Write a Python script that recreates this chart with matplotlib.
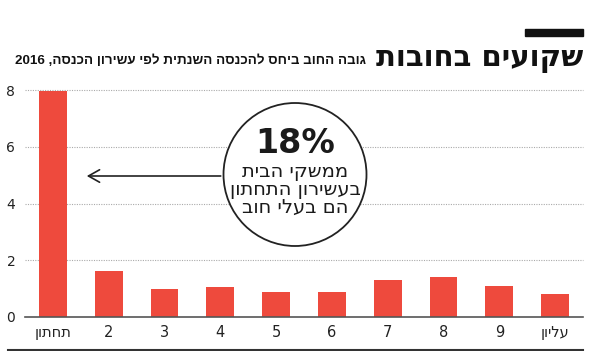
import matplotlib
matplotlib.use("Agg")
import matplotlib.pyplot as plt
from matplotlib.patches import Ellipse, Rectangle
from matplotlib.lines import Line2D


def heb(s):
    # matplotlib has no bidi, so flip Hebrew to visual order
    return s[::-1]


deciles = ["תחתון", "2", "3", "4", "5", "6", "7", "8", "9", "עליון"]
debt_ratio = [7.95, 1.63, 0.98, 1.04, 0.87, 0.87, 1.32, 1.40, 1.09, 0.81]
y_ticks = [0, 2, 4, 6, 8]

title = "שקועים בחובות"
subtitle = "גובה החוב ביחס להכנסה השנתית לפי עשירון הכנסה"
subtitle_year = "2016"
bubble_big = "18%"
bubble_lines = ["ממשקי הבית", "בעשירון התחתון", "הם בעלי חוב"]

FONT = ["DejaVu Sans"]
FONT2 = ["Liberation Sans", "DejaVu Sans"]
RED = "#ee4a3d"

fig = plt.figure(figsize=(5.9, 3.51), dpi=100)
W, H = 590, 351
ax = fig.add_axes([25 / W, 1 - 317 / H, 558 / W, 227 / H])

x = list(range(len(deciles)))
ax.bar(x, debt_ratio, width=0.5, color=RED, zorder=3)
ax.set_xlim(-0.5, 9.5)
ax.set_ylim(0, 8.0)
ax.set_yticks(y_ticks)
ax.set_yticklabels([str(v) for v in y_ticks], family=FONT, fontsize=10, color="#222222")
ax.set_xticks(x)
ax.set_xticklabels([heb(d) if not d.isdigit() else d for d in deciles],
                   family=FONT, fontsize=10.5, color="#222222")
ax.tick_params(axis="x", length=0, pad=6)
ax.tick_params(axis="y", length=0, pad=7)
for s in ["top", "right", "left"]:
    ax.spines[s].set_visible(False)
ax.spines["bottom"].set_color("#555555")
ax.spines["bottom"].set_linewidth(1.2)
ax.spines["bottom"].set_zorder(4)
for v in y_ticks[1:]:
    ax.axhline(v, color="#aaaaaa", lw=0.8, ls=(0, (1, 1.2)), zorder=1, clip_on=False)

# callout bubble
ppx = 558 / 10.0
ppy = 227 / 8.0
cx, cy, r = 295, 174.5, 71.5
dx = (cx - 25) / ppx - 0.5
dy = (317 - cy) / ppy
circ = Ellipse((dx, dy), 2 * r / ppx, 2 * r / ppy, facecolor="white",
               edgecolor="#222222", lw=1.3, zorder=5, clip_on=False)
ax.add_patch(circ)
ax.annotate("", xy=((84 - 25) / ppx - 0.5, (317 - 176) / ppy),
            xytext=(dx - r / ppx, (317 - 176) / ppy),
            arrowprops=dict(arrowstyle="->,head_length=0.8,head_width=0.45",
                            color="#222222", lw=1.2), zorder=6)
ax.text(dx, (317 - 143) / ppy, bubble_big, ha="center", va="center",
        fontsize=24, fontweight="bold", family=FONT, color="#1a1a1a", zorder=7)
for i, ln in enumerate(bubble_lines):
    ax.text(dx, (317 - (171 + 18 * i)) / ppy, heb(ln), ha="center", va="center",
            fontsize=14, family=FONT, color="#1a1a1a", zorder=7)

# header
fig.patches.append(Rectangle((525 / W, 1 - 36 / H), 58 / W, 7 / H,
                             transform=fig.transFigure, color="#111111"))
fig.text(583 / W, 1 - 66 / H, heb(title), ha="right", va="baseline",
         fontsize=21, fontweight="bold", family=FONT, color="#111111")
sub = fig.text(366 / W, 1 - 64 / H, subtitle_year + " ," + heb(subtitle), ha="right",
               va="baseline", fontsize=12, fontweight="bold", family=FONT2, color="#111111")
# shrink the subtitle until it fits the space left of the title
rend = fig.canvas.get_renderer()
wpx = sub.get_window_extent(rend).width
sub.set_fontsize(12 * 351.0 / wpx)

fig.lines.append(Line2D([8 / W, 583 / W], [1 - 350 / H, 1 - 350 / H],
                        transform=fig.transFigure, color="#333333", lw=1.5))

fig.savefig("out.png", dpi=100)
